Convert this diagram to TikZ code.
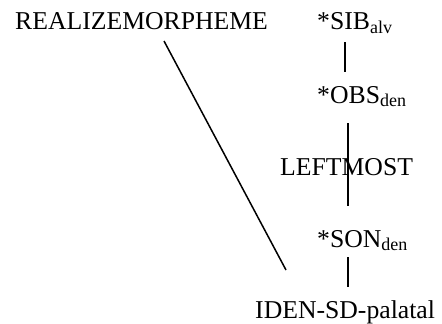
\documentclass[tikz,border=0pt]{standalone}
\usepackage{fontspec}
\setmainfont{Liberation Serif}
\usetikzlibrary{calc}
\begin{document}
\begin{tikzpicture}[x=1pt,y=-1pt,
  lab/.style={anchor=base west,inner sep=0pt,font=\fontsize{25.7}{28}\selectfont},
  con/.style={line width=1.5pt}]
\useasboundingbox (0,0) rectangle (442,324);
\node[lab] (rm) at (15,30) {REALIZEMORPHEME};
\node[lab] (sib) at (317,30) {*SIB\textsubscript{alv}};
\node[lab] (obs) at (317,103) {*OBS\textsubscript{den}};
\node[lab] (lm) at (280,175) {LEFTMOST};
\node[lab] (son) at (317,247) {*SON\textsubscript{den}};
\node[lab] (iden) at (255,318) {IDEN-SD-palatal};
\draw[con] ($(sib.base west)+(28,12)$) -- ($(obs.base west)+(28,-31)$);
\draw[con] ($(obs.base west)+(31,20)$) -- ($(son.base west)+(31,-41)$);
\draw[con] ($(son.base west)+(31,10)$) -- ($(iden.base west)+(93,-31)$);
\draw[con] ($(rm.base west)+(149,11)$) -- ($(iden.base west)+(31,-48)$);
\end{tikzpicture}
\end{document}
